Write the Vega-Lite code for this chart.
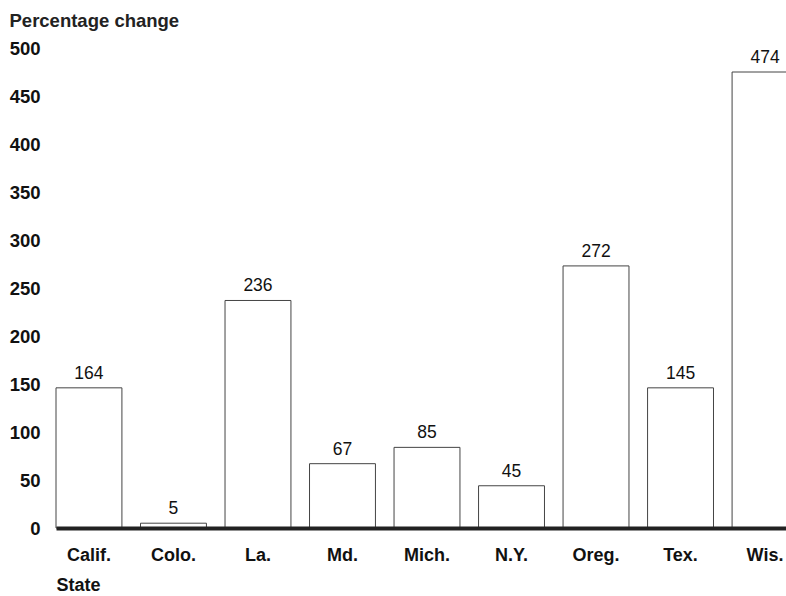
{
  "$schema": "https://vega.github.io/schema/vega-lite/v6.json",
  "width": 730,
  "height": 480,
  "autosize": {"type": "none"},
  "padding": {"left": 56, "top": 48, "right": 0, "bottom": 68},
  "background": "white",
  "config": {
    "view": {"stroke": null},
    "font": "Liberation Sans"
  },
  "data": {
    "values": [
      {"State": "Calif.", "bar": 146, "label": "164"},
      {"State": "Colo.", "bar": 5, "label": "5"},
      {"State": "La.", "bar": 237, "label": "236"},
      {"State": "Md.", "bar": 67, "label": "67"},
      {"State": "Mich.", "bar": 84, "label": "85"},
      {"State": "N.Y.", "bar": 44, "label": "45"},
      {"State": "Oreg.", "bar": 273, "label": "272"},
      {"State": "Tex.", "bar": 146, "label": "145"},
      {"State": "Wis.", "bar": 475, "label": "474"}
    ]
  },
  "encoding": {
    "x": {
      "field": "State",
      "type": "nominal",
      "sort": null,
      "scale": {"range": [0, 742], "paddingInner": 0.22, "paddingOuter": 0},
      "axis": {
        "zindex": 1,
        "title": "State",
        "titleFont": "Liberation Sans",
        "titleFontSize": 18,
        "titleFontWeight": "bold",
        "titleColor": "#111",
        "titleAnchor": "start",
        "titleAlign": "left",
        "titleBaseline": "top",
        "titlePadding": 12,
        "labelAngle": 0,
        "labelFontSize": 18,
        "labelFontWeight": "bold",
        "labelColor": "#111",
        "labelPadding": 18,
        "ticks": false,
        "domainColor": "#222",
        "domainWidth": 4,
        "domainCap": "butt"
      }
    },
    "y": {
      "field": "bar",
      "type": "quantitative",
      "scale": {"domain": [0, 500], "nice": false},
      "axis": {
        "title": "Percentage change",
        "titleAngle": 0,
        "titleAlign": "left",
        "titleBaseline": "alphabetic",
        "titleX": -47,
        "titleY": -22,
        "titleFontSize": 18.5,
        "titleFontWeight": "bold",
        "titleColor": "#222",
        "values": [0, 50, 100, 150, 200, 250, 300, 350, 400, 450, 500],
        "labelFontSize": 18.5,
        "labelFontWeight": "bold",
        "labelColor": "#111",
        "labelPadding": 16,
        "ticks": false,
        "domain": false,
        "grid": false
      }
    }
  },
  "layer": [
    {
      "mark": {"type": "bar", "fill": "white", "stroke": "#444", "strokeWidth": 1}
    },
    {
      "mark": {"type": "text", "baseline": "alphabetic", "dy": -9, "fontSize": 17.5, "color": "#111"},
      "encoding": {"text": {"field": "label"}}
    }
  ]
}
